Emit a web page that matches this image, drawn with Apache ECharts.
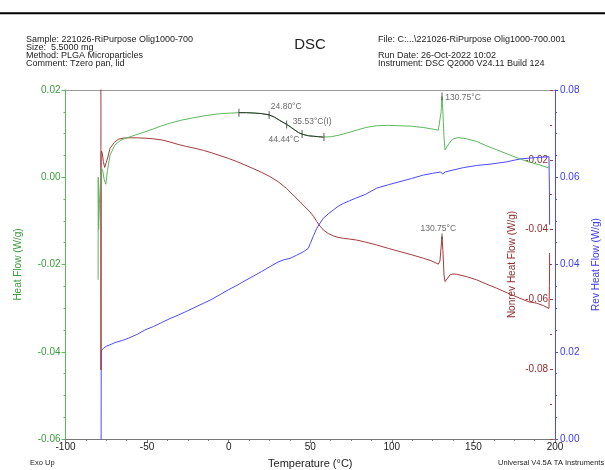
<!DOCTYPE html>
<html>
<head>
<meta charset="utf-8">
<script src="https://cdn.jsdelivr.net/npm/echarts@6/dist/echarts.min.js"></script>
<style>
html,body{margin:0;padding:0;background:#fff;}
#chart{width:605px;height:470px;}
</style>
</head>
<body>
<div id="chart"></div>
<script>
// ---- Data ----
// Heat Flow (W/g), left axis
const hfT = [-80.0, -79.95, -79.7, -79.2, -78.6, -78.0, -77.2, -76.3, -75.3, -74.3, -72.7, -69.7, -66.5, -63.5, -57, -51.3, -46, -41, -35, -28.8, -22, -14.5, -9, -4.3, 1, 5.9, 11, 16.1, 20, 24.7, 28, 31, 35.6, 38, 40.6, 43, 45.7, 49, 52, 55, 58, 63, 68.2, 73, 78.5, 84, 90.7, 98, 105, 112, 119.3, 124, 128.5, 129.5, 130.2, 130.75, 131.3, 132, 132.6, 133.5, 135, 137, 140.7, 146, 152, 158, 164.3, 171, 178.6, 184, 190, 196.5];
const hfV = [-0.0235, 0.0, -0.012, -0.006, -0.001, 0.0022, 0.0015, -0.0005, -0.0016, 0.0015, 0.0051, 0.0074, 0.0084, 0.0089, 0.0097, 0.0104, 0.0111, 0.0118, 0.0125, 0.0131, 0.0136, 0.0141, 0.0144, 0.0146, 0.0147, 0.0148, 0.0148, 0.0147, 0.0146, 0.0143, 0.0138, 0.0131, 0.0121, 0.0115, 0.0108, 0.0102, 0.0098, 0.0095, 0.0094, 0.0093, 0.0092, 0.0093, 0.0097, 0.0102, 0.0108, 0.0114, 0.0118, 0.0119, 0.0118, 0.0117, 0.0114, 0.0111, 0.0108, 0.0112, 0.0150, 0.0185, 0.0150, 0.0090, 0.0063, 0.0066, 0.0077, 0.0087, 0.0091, 0.0088, 0.0082, 0.0072, 0.0063, 0.0053, 0.0042, 0.0035, 0.0029, 0.0021];
// Nonrev Heat Flow (W/g)
const nrT = [-78.3, -78.25, -78.2, -77.9, -77.45, -76.8, -76.0, -75.2, -74.2, -72.7, -70, -67.6, -64.5, -61.5, -56, -51.3, -46, -41, -36, -30.9, -25.7, -20.6, -15.5, -10.4, -5.3, -0.2, 5, 10, 15, 20.2, 25.3, 30.4, 35.5, 40.6, 43.7, 46.8, 49.8, 52, 54, 56, 58, 61, 64.1, 67, 70.3, 74, 78.5, 84, 90.7, 98, 105, 112, 119.3, 124, 128.5, 129.5, 130.2, 130.75, 131.3, 132, 132.6, 133.5, 135.6, 137.5, 139.8, 146, 152, 158, 164.3, 171, 178.6, 184, 188.8, 193, 196.3, 196.6, 196.7];
const nrV = [0.005, -0.0802, -0.0185, -0.0175, -0.0181, -0.0205, -0.0222, -0.0224, -0.0195, -0.0167, -0.0150, -0.0141, -0.0138, -0.0137, -0.0137, -0.0138, -0.0140, -0.0143, -0.0149, -0.0156, -0.0162, -0.0167, -0.0173, -0.0180, -0.0188, -0.0196, -0.0205, -0.0215, -0.0225, -0.0236, -0.0248, -0.0263, -0.0282, -0.0306, -0.0320, -0.0335, -0.0349, -0.0362, -0.0377, -0.0390, -0.0401, -0.0411, -0.0418, -0.0422, -0.0425, -0.0427, -0.0430, -0.0436, -0.0444, -0.0454, -0.0463, -0.0472, -0.0482, -0.0489, -0.0499, -0.0490, -0.0450, -0.0420, -0.0460, -0.0530, -0.0549, -0.0545, -0.0530, -0.0527, -0.0528, -0.0535, -0.0544, -0.0556, -0.0568, -0.0582, -0.0597, -0.0607, -0.0611, -0.0618, -0.0626, -0.0560, -0.0467];
// Rev Heat Flow (W/g)
const revT = [-78.2, -78.1, -77.8, -76.5, -74.8, -72, -69.7, -65, -61.5, -56, -51.3, -46, -41, -36, -30.9, -25.7, -20.6, -15.5, -10.4, -5.3, -0.2, 5, 10, 15, 20.2, 25.3, 30.4, 34, 37.6, 41.5, 45.7, 48.8, 50, 52, 54, 56, 58, 61, 64.1, 67, 70.3, 74, 78.5, 84, 90.7, 98, 105, 112, 119.3, 125, 130, 131.2, 132.5, 137, 143.8, 152, 160.2, 170, 178.6, 188, 196.3, 196.6, 196.7];
const revV = [-0.01, 0.0196, 0.0204, 0.0209, 0.0213, 0.0217, 0.0221, 0.0226, 0.0231, 0.0240, 0.0250, 0.0258, 0.0267, 0.0276, 0.0284, 0.0293, 0.0302, 0.0311, 0.0320, 0.0331, 0.0342, 0.0352, 0.0363, 0.0373, 0.0384, 0.0395, 0.0406, 0.0411, 0.0414, 0.0421, 0.0429, 0.0437, 0.0448, 0.0466, 0.0483, 0.0495, 0.0506, 0.0516, 0.0525, 0.0533, 0.0540, 0.0546, 0.0553, 0.0561, 0.0575, 0.0583, 0.0590, 0.0597, 0.0605, 0.0609, 0.0612, 0.0607, 0.0612, 0.0616, 0.0622, 0.0627, 0.0630, 0.0635, 0.0642, 0.0645, 0.0647, 0.0570, 0.0491];
// Glass transition analysis marks on Heat Flow
const glassTickT = [6.3, 24.8, 35.53, 45.0, 58.4];
const glassLabels = ['', '24.80°C', '35.53°C(I)', '44.44°C', ''];
// Peak annotation
const peakT = 130.75;
const peakLabel = '130.75°C';

// Axis ranges
const xRange = {min: -100, max: 200, interval: 50};
const hfRange = {min: -0.06, max: 0.02, interval: 0.02};
const revRange = {min: 0, max: 0.08, interval: 0.02};
const nrRange = {min: -0.10, max: 0.00, interval: 0.02};

// ---- helpers ----
function zip(a, b) { return a.map((t, i) => [t, b[i]]); }
function interp(t, xs, ys) {
  for (let i = 1; i < xs.length; i++) {
    if (t <= xs[i]) {
      const f = (t - xs[i - 1]) / (xs[i] - xs[i - 1]);
      return ys[i - 1] + f * (ys[i] - ys[i - 1]);
    }
  }
  return ys[ys.length - 1];
}

const FONT = 'Liberation Sans, Arial, sans-serif';
const GREEN = '#5cb85c', GREEN_T = '#3c9a3c';
const BROWN = '#a33b3b', BROWN_T = '#8f2f2f';
const BLUE = '#4a4aff', BLUE_T = '#3a3aee';

const gS = glassTickT[0], gE = glassTickT[glassTickT.length - 1];
const glassData = [[gS, interp(gS, hfT, hfV)]]
  .concat(zip(hfT, hfV).filter(p => p[0] > gS && p[0] < gE))
  .concat([[gE, interp(gE, hfT, hfV)]]);

const glassOffsets = [null, {align: 'left', offset: [1.7, -8.2]}, {align: 'left', offset: [6, -2.6]}, {align: 'right', offset: [-2.7, 5.7]}, null];
const glassTicks = glassTickT.map((t, i) => {
  const item = {value: [t, interp(t, hfT, hfV)]};
  if (glassLabels[i]) {
    item.label = {show: true, formatter: glassLabels[i], position: 'inside', align: glassOffsets[i].align, verticalAlign: 'middle', offset: glassOffsets[i].offset, color: '#444', fontSize: 8.5, fontFamily: FONT};
  }
  return item;
});

const chart = echarts.init(document.getElementById('chart'), null, {renderer: 'canvas'});
const opt = {
  animation: false,
  backgroundColor: '#fff',
  textStyle: {fontFamily: FONT},
  grid: {left: 65.5, right: 50, top: 90, bottom: 31, containLabel: false, outerBoundsMode: 'none'},
  xAxis: [{
    type: 'value', min: xRange.min, max: xRange.max, interval: xRange.interval, position: 'bottom',
    axisLine: {onZero: false, lineStyle: {color: '#777', width: 1}},
    axisTick: {show: true, length: 4, lineStyle: {color: '#777'}},
    minorTick: {show: true, splitNumber: 4, length: 2, lineStyle: {color: '#777'}},
    splitLine: {show: false},
    axisLabel: {color: '#222', fontSize: 10, margin: 3, fontFamily: FONT},
    name: 'Temperature (°C)', nameLocation: 'middle', nameGap: 19, nameMoveOverlap: false,
    nameTextStyle: {color: '#222', fontSize: 11, fontFamily: FONT}
  }, {
    type: 'value', min: xRange.min, max: xRange.max, position: 'top',
    axisLine: {onZero: false, lineStyle: {color: '#999', width: 1}},
    axisTick: {show: false}, axisLabel: {show: false}, splitLine: {show: false}
  }],
  yAxis: [{
    type: 'value', min: hfRange.min, max: hfRange.max, interval: hfRange.interval, position: 'left',
    axisLine: {show: true, onZero: false, lineStyle: {color: GREEN}},
    axisTick: {show: true, length: 4, lineStyle: {color: GREEN}},
    minorTick: {show: true, splitNumber: 4, length: 2, lineStyle: {color: GREEN}},
    splitLine: {show: false},
    axisLabel: {color: GREEN_T, fontSize: 10, margin: 5, fontFamily: FONT, formatter: v => v.toFixed(2)},
    name: 'Heat Flow (W/g)', nameLocation: 'middle', nameGap: 42, nameRotate: 90, nameMoveOverlap: false,
    nameTextStyle: {color: GREEN_T, fontSize: 10, fontFamily: FONT}
  }, {
    type: 'value', min: revRange.min, max: revRange.max, interval: revRange.interval, position: 'right',
    axisLine: {show: true, onZero: false, lineStyle: {color: BLUE}},
    axisTick: {show: true, length: 3, lineStyle: {color: BLUE}},
    minorTick: {show: true, splitNumber: 4, length: 2, lineStyle: {color: BLUE}},
    splitLine: {show: false},
    axisLabel: {color: BLUE_T, fontSize: 10, margin: 5, fontFamily: FONT, formatter: v => v.toFixed(2)},
    name: 'Rev Heat Flow (W/g)', nameLocation: 'middle', nameGap: 36, nameRotate: 90, nameMoveOverlap: false,
    nameTextStyle: {color: BLUE_T, fontSize: 10, fontFamily: FONT}
  }, {
    type: 'value', min: nrRange.min, max: nrRange.max, interval: nrRange.interval, position: 'right', offset: -5,
    axisLine: {show: false, onZero: false},
    axisTick: {show: true, length: 3, lineStyle: {color: BROWN}},
    minorTick: {show: true, splitNumber: 2, length: 2, lineStyle: {color: BROWN}},
    splitLine: {show: false},
    axisLabel: {inside: true, color: BROWN_T, fontSize: 10, margin: 2, fontFamily: FONT,
      formatter: v => (Math.abs(v) < 1e-9 || Math.abs(v + 0.1) < 1e-9) ? '' : v.toFixed(2)},
    name: 'Nonrev Heat Flow (W/g)', nameLocation: 'middle', nameGap: -43, nameRotate: 90, nameMoveOverlap: false,
    nameTextStyle: {color: BROWN_T, fontSize: 10, fontFamily: FONT}
  }],
  series: [
    {type: 'line', name: 'Rev', xAxisIndex: 0, yAxisIndex: 1, data: zip(revT, revV), showSymbol: false, symbol: 'none',
      lineStyle: {color: BLUE, width: 1}, clip: true, z: 2},
    {type: 'line', name: 'Nonrev', xAxisIndex: 0, yAxisIndex: 2, data: zip(nrT, nrV), showSymbol: false, symbol: 'none',
      lineStyle: {color: BROWN, width: 1}, clip: true, z: 3},
    {type: 'line', name: 'Heat Flow', xAxisIndex: 0, yAxisIndex: 0, data: zip(hfT, hfV), showSymbol: false, symbol: 'none',
      lineStyle: {color: GREEN, width: 1}, clip: true, z: 4},
    {type: 'line', name: 'Glass', xAxisIndex: 0, yAxisIndex: 0, data: glassData, showSymbol: false, symbol: 'none',
      lineStyle: {color: '#333', width: 1}, z: 5},
    {type: 'scatter', xAxisIndex: 0, yAxisIndex: 0, data: glassTicks, symbol: 'rect', symbolSize: [1, 8],
      itemStyle: {color: '#333'}, z: 6, silent: true},
    {type: 'scatter', xAxisIndex: 0, yAxisIndex: 0, data: [{value: [peakT, interp(peakT, hfT, hfV)],
      label: {show: true, formatter: peakLabel, position: 'inside', align: 'left', verticalAlign: 'middle', offset: [3.3, 1], color: '#444', fontSize: 8.5, fontFamily: FONT}}],
      symbol: 'rect', symbolSize: [1, 8], itemStyle: {color: '#333'}, z: 6, silent: true},
    {type: 'scatter', xAxisIndex: 0, yAxisIndex: 2, data: [{value: [peakT, interp(peakT, nrT, nrV)],
      label: {show: true, formatter: peakLabel, position: 'inside', align: 'center', verticalAlign: 'middle', offset: [-3.7, -7.6], color: '#444', fontSize: 8.5, fontFamily: FONT}}],
      symbol: 'rect', symbolSize: [1, 6], itemStyle: {color: '#333'}, z: 6, silent: true}
  ],
  graphic: [
    {type: 'line', shape: {x1: 0, y1: 13.3, x2: 605, y2: 13.3}, style: {stroke: '#000', lineWidth: 2}, silent: true},
    {type: 'text', left: 26, top: 35.3, style: {text: 'Sample: 221026-RiPurpose Olig1000-700\nSize:  5.5000 mg\nMethod: PLGA Microparticles\nComment: Tzero pan, lid', font: '9px ' + FONT, fill: '#222', lineHeight: 8}},
    {type: 'text', left: 378, top: 35.3, style: {text: 'File: C:...\\221026-RiPurpose Olig1000-700.001\n \nRun Date: 26-Oct-2022 10:02\nInstrument: DSC Q2000 V24.11 Build 124', font: '9px ' + FONT, fill: '#222', lineHeight: 8}},
    {type: 'text', x: 310, y: 45, style: {text: 'DSC', font: '15px ' + FONT, fill: '#222', textAlign: 'center', textVerticalAlign: 'middle'}},
    {type: 'text', x: 30, y: 463, style: {text: 'Exo Up', font: '7.5px ' + FONT, fill: '#222', textAlign: 'left', textVerticalAlign: 'middle'}},
    {type: 'text', x: 498, y: 463, style: {text: 'Universal V4.5A TA Instruments', font: '7.5px ' + FONT, fill: '#222', textAlign: 'left', textVerticalAlign: 'middle'}}
  ]
};
chart.setOption(opt);
</script>
</body>
</html>
